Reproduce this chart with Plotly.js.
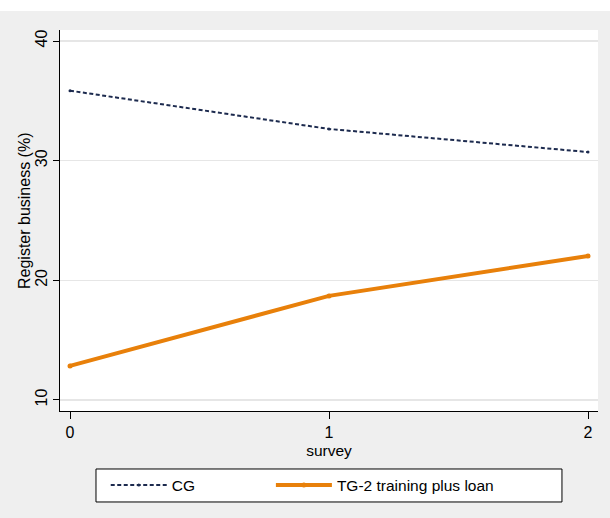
<!DOCTYPE html>
<html>
<head>
<meta charset="utf-8">
<script src="https://cdn.plot.ly/plotly-3.0.1.min.js"></script>
<style>
html,body{margin:0;padding:0;background:#ffffff;}
#chart{position:absolute;left:0;top:11px;width:610px;height:507px;}
</style>
</head>
<body>
<div id="chart"></div>
<script>
const surveys = [0, 1, 2];
const cgValues = [35.85, 32.65, 30.72];
const tgValues = [12.85, 18.7, 22.03];
const seriesNames = ["CG", "TG-2 training plus loan"];
const yTicks = [10, 20, 30, 40];
const xTicks = [0, 1, 2];
const xTitle = "survey";
const yTitle = "Register business (%)";

const font = "Liberation Sans, Arial, sans-serif";

const traces = [
  {
    x: surveys, y: cgValues, name: seriesNames[0], type: "scatter", mode: "lines+markers",
    line: {color: "#1c2a4e", width: 2, dash: "4px,2.5px"},
    marker: {color: "#1c2a4e", size: 3},
    legend: "legend"
  },
  {
    x: surveys, y: tgValues, name: seriesNames[1], type: "scatter", mode: "lines+markers",
    line: {color: "#e8800a", width: 4},
    marker: {color: "#e8800a", size: 5},
    legend: "legend2"
  }
];

const legendBase = {
  orientation: "h",
  xanchor: "left",
  y: -0.1955, yanchor: "middle",
  bgcolor: "rgba(0,0,0,0)", borderwidth: 0,
  itemwidth: 56,
  font: {family: font, size: 15.5}
};

const layout = {
  width: 610, height: 507,
  margin: {l: 60, r: 12, t: 19, b: 107},
  paper_bgcolor: "#efefef",
  plot_bgcolor: "#ffffff",
  font: {family: font, size: 15.5, color: "#000000"},
  showlegend: true,
  xaxis: {
    range: [-0.0386, 2.0386],
    tickvals: xTicks, ticktext: xTicks.map(String),
    showgrid: false, zeroline: false,
    showline: true, linecolor: "#000000", linewidth: 1,
    ticks: "outside", ticklen: 7, tickcolor: "#000000", tickwidth: 1,
    tickfont: {family: font, size: 16},
    title: {text: xTitle, font: {family: font, size: 15.5}, standoff: 4}
  },
  yaxis: {
    range: [9.08, 40.92],
    tickvals: yTicks, ticktext: yTicks.map(String),
    tickangle: -90,
    showgrid: true, gridcolor: "#e6e6e6", gridwidth: 1.5,
    zeroline: false,
    showline: true, linecolor: "#000000", linewidth: 1,
    ticks: "outside", ticklen: 6, tickcolor: "#000000", tickwidth: 1,
    tickfont: {family: font, size: 16}
  },
  annotations: [
    {text: yTitle, xref: "paper", yref: "paper", x: -0.065, y: 0.525,
     xanchor: "center", yanchor: "middle", textangle: -90, showarrow: false,
     font: {family: font, size: 16}}
  ],
  shapes: [
    {type: "rect", xref: "paper", yref: "paper",
     x0: 0.0669, x1: 0.933, y0: -0.2388, y1: -0.1522,
     fillcolor: "#ffffff", line: {color: "#000000", width: 1}, layer: "above"}
  ],
  legend: Object.assign({}, legendBase, {x: 0.085}),
  legend2: Object.assign({}, legendBase, {x: 0.392})
};

Plotly.newPlot("chart", traces, layout, {displayModeBar: false, staticPlot: true});
</script>
</body>
</html>
